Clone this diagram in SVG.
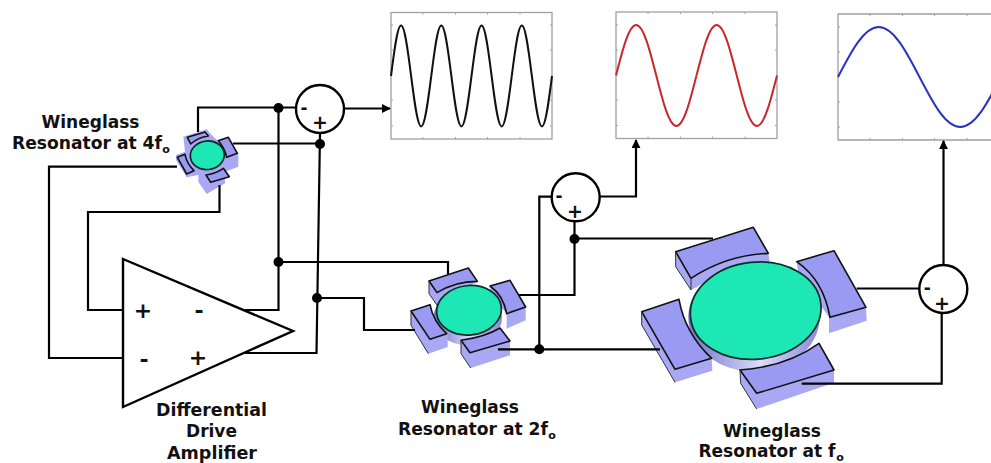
<svg xmlns="http://www.w3.org/2000/svg" xmlns:xlink="http://www.w3.org/1999/xlink" width="991" height="463" viewBox="0 0 991 463">
<style>
text{font-family:"DejaVu Sans","Liberation Sans",sans-serif;font-weight:700;fill:#111;text-anchor:middle}
.lbl{font-size:17px}
.sub{font-size:11px}
.sign{font-size:22px}
.wire{fill:none;stroke:#000;stroke-width:2.2;stroke-linejoin:miter}
.arr{marker-end:url(#ah)}
.dot{fill:#000}
.sum{fill:#fff;stroke:#000;stroke-width:2.4}
.frame{fill:#fff;stroke:#a0a0a0;stroke-width:1.3}
.tick{fill:none;stroke:#a0a0a0;stroke-width:1}
.face{fill:#9a9af2;stroke:#111;stroke-width:1.6;stroke-linejoin:round;vector-effect:non-scaling-stroke}
.side{fill:#a8a8f4;stroke:none}
.dark{fill:none;stroke:#333;stroke-width:1;vector-effect:non-scaling-stroke}
.disk{fill:#1de8b5;stroke:#0c2c28;stroke-width:1.7}
.under{fill:url(#ug)}
</style>
<defs>
<linearGradient id="ug" x1="0" x2="1" y1="0" y2="0"><stop offset="0" stop-color="#7272c8"/><stop offset="0.55" stop-color="#dcdcfc"/><stop offset="1" stop-color="#8888d8"/></linearGradient>
<marker id="ah" viewBox="0 0 10 10" refX="9" refY="5" markerUnits="userSpaceOnUse" markerWidth="9" markerHeight="9" orient="auto"><path d="M0,0 L10,5 L0,10 Z" fill="#000"/></marker>
<path id="sine" fill="none" stroke-width="2" vector-effect="non-scaling-stroke" d="M0,0 C.0815,-.5123 .1595,-1 .25,-1 C.3405,-1 .4185,-.5123 .5,0 C.5815,.5123 .6595,1 .75,1 C.8405,1 .9185,.5123 1,0"/>
</defs>

<g id="plot-4f">
<rect class="frame" x="391" y="12.5" width="161" height="126.5"/>
<path class="tick" d="M423,12.5v2M455.500,12.500v2M487.500,12.500v2M520,12.500v2M423,139v-2M455.500,139v-2M487.500,139v-2M520,139v-2M391,25h2M391,50h2M391,100h2M391,126h2M552,25h-2M552,50h-2M552,100h-2M552,126h-2"/>
<g stroke="#111">
<use href="#sine" transform="translate(391,76) scale(40.25,50.5)"/>
<use href="#sine" transform="translate(431.250,76) scale(40.25,50.5)"/>
<use href="#sine" transform="translate(471.500,76) scale(40.25,50.5)"/>
<use href="#sine" transform="translate(511.750,76) scale(40.25,50.5)"/>
</g>
</g>
<g id="plot-2f">
<rect class="frame" x="616" y="12" width="161" height="126.500"/>
<path class="tick" d="M648,12v2M680.500,12v2M712.500,12v2M745,12v2M648,138.500v-2M680.500,138.500v-2M712.500,138.500v-2M745,138.500v-2M616,25h2M616,50h2M616,100h2M616,125.500h2M777,25h-2M777,50h-2M777,100h-2M777,125.500h-2"/>
<g stroke="#c8282c">
<use href="#sine" transform="translate(616,75.500) scale(80.500,50.500)"/>
<use href="#sine" transform="translate(696.500,75.500) scale(80.500,50.500)"/>
</g>
</g>
<g id="plot-f">
<path class="frame" d="M991,14 H838 V140 H991"/>
<path class="tick" d="M870,14v2M902.500,14v2M934.500,14v2M967,14v2M870,140v-2M902.500,140v-2M934.500,140v-2M967,140v-2M838,27h2M838,52h2M838,102h2M838,127h2"/>
<g stroke="#2a34c0">
<use href="#sine" transform="translate(838,77) scale(163,50)"/>
</g>
</g>

<g id="amplifier">
<path d="M123,259 L293,331 L123,407 Z" fill="#fff" stroke="#000" stroke-width="2.4" stroke-linejoin="miter"/>
<text class="sign" x="143" y="318">+</text>
<text class="sign" x="199" y="318">-</text>
<text class="sign" x="144" y="367">-</text>
<text class="sign" x="198" y="365">+</text>
<text class="lbl" x="211.500" y="415.500" textLength="111" lengthAdjust="spacingAndGlyphs">Differential</text>
<text class="lbl" x="211.500" y="437" textLength="51" lengthAdjust="spacingAndGlyphs">Drive</text>
<text class="lbl" x="212" y="458.500" textLength="90" lengthAdjust="spacingAndGlyphs">Amplifier</text>
</g>

<g id="resonator-4f">
<g transform="translate(170,120) scale(.33333)">
<path class="side" d="M40,50 L110,28 L125,45 L140,60 L175,50 L205,100 L205,140 L165,155 L165,190 L110,222 L85,185 L85,165 L50,172 L18,120 L18,105 L45,95 Z"/>
<path class="face" d="M52,52 L105,36 L115,48 Q85,52 62,72 Z"/>
<path class="face" d="M145,62 L175,52 L202,100 L170,112 Q165,85 145,62 Z"/>
<path class="face" d="M22,112 L45,103 Q50,130 72,152 L50,162 Z"/>
<path class="face" d="M108,165 Q140,160 160,145 L178,170 L122,187 Z"/>
</g>
<ellipse class="disk" cx="207.300" cy="155.300" rx="17" ry="14.300" stroke-width="2" transform="rotate(-6 207.300 155.300)"/>
<text class="lbl" x="90.500" y="128" textLength="98" lengthAdjust="spacingAndGlyphs">Wineglass</text>
<text class="lbl" x="87" y="149.300" textLength="150" lengthAdjust="spacingAndGlyphs">Resonator at 4f</text>
<text class="sub" x="166" y="153">o</text>
</g>

<g id="resonator-2f">
<g transform="translate(405,262) scale(.33333)">
<ellipse class="under" cx="188" cy="168" rx="103" ry="82"/>
<path class="side" d="M72,57 L72,95 L100,135 L150,90 L217,60 Z"/>
<path class="face" d="M72,57 L190,18 L217,58 Q150,58 96,92 Z"/>
<path class="dark" d="M72,57 L72,95 L100,135"/>
<path class="side" d="M255,72 L258,95 L305,155 L305,200 L362,175 L362,135 Z"/>
<path class="face" d="M255,72 L315,55 L362,135 L305,155 Q295,100 255,72 Z"/>
<path class="side" d="M18,147 L18,190 L70,275 L128,255 L128,215 Z"/>
<path class="face" d="M18,147 L75,128 Q85,180 125,215 L75,232 Z"/>
<path class="dark" d="M18,147 L18,190 L70,275"/>
<path class="side" d="M168,235 L168,275 L197,318 L315,280 L315,237 Z"/>
<path class="face" d="M168,235 Q240,225 285,198 L315,237 L195,272 Z"/>
<path class="dark" d="M168,235 L168,275 L197,318"/>
</g>
<ellipse class="disk" cx="469" cy="310.300" rx="32.500" ry="24.700" transform="rotate(-6 469 310.300)"/>
<text class="lbl" x="470" y="413" textLength="98" lengthAdjust="spacingAndGlyphs">Wineglass</text>
<text class="lbl" x="473" y="435" textLength="150" lengthAdjust="spacingAndGlyphs">Resonator at 2f</text>
<text class="sub" x="552" y="439">o</text>
</g>

<g id="resonator-f">
<g transform="translate(630,210) scale(.33333)">
<ellipse class="under" cx="372" cy="322" rx="197" ry="163"/>
<path class="side" d="M137,125 L137,170 L183,240 L230,215 L420,160 L415,130 Z"/>
<path class="face" d="M137,125 L370,52 L415,130 Q290,135 183,205 Z"/>
<path class="dark" d="M137,125 L137,170 L183,240 M183,205 L183,240"/>
<path class="side" d="M500,155 L505,190 L597,322 L597,370 L710,332 L708,292 Z"/>
<path class="face" d="M500,155 L612,122 L708,292 L600,322 Q580,210 500,155 Z"/>
<path class="side" d="M35,305 L35,345 L135,517 L247,482 L245,445 Z"/>
<path class="face" d="M35,305 L147,268 Q165,370 245,445 L135,478 Z"/>
<path class="dark" d="M35,305 L35,345 L135,517"/>
<path class="side" d="M330,480 L332,520 L380,597 L612,518 L612,480 Z"/>
<path class="face" d="M330,480 Q470,470 567,400 L612,480 L380,550 Z"/>
<path class="dark" d="M330,480 L332,520 L380,597"/>
</g>
<ellipse class="disk" cx="755.700" cy="310.700" rx="65.500" ry="48.500" transform="rotate(-6 755.700 310.700)"/>
<text class="lbl" x="772" y="436.500" textLength="98" lengthAdjust="spacingAndGlyphs">Wineglass</text>
<text class="lbl" x="767" y="457" textLength="137" lengthAdjust="spacingAndGlyphs">Resonator at f</text>
<text class="sub" x="840" y="460.500">o</text>
</g>

<g id="connectors">
<path class="wire" d="M198,132 V107.500 H296"/>
<path class="wire" d="M278.500,107.500 V310 H245"/>
<path class="wire" d="M233,143.500 H320"/>
<path class="wire" d="M320,133 L316.500,353 H245"/>
<path class="wire" d="M177,166.700 H49 V358 H123"/>
<path class="wire" d="M219.500,185 V212 H88 V310 H123"/>
<path class="wire" d="M278.500,262 H448 V274"/>
<path class="wire" d="M317,298 H364 V330 H415"/>
<path class="wire" d="M518,295 H574.500 V221"/>
<path class="wire" d="M574.500,238.500 H713"/>
<path class="wire" d="M498,349.300 H660"/>
<path class="wire" d="M539.300,349.300 V196.700 H552"/>
<path class="wire" d="M856.700,288.500 H919.300"/>
<path class="wire" d="M801.700,383.700 H941.700 V313"/>
<path class="wire arr" d="M344,108.500 H390"/>
<path class="wire arr" d="M599.700,196.500 H636 V140"/>
<path class="wire arr" d="M943.500,265 V141"/>
<circle class="dot" cx="278.500" cy="108" r="5"/>
<circle class="dot" cx="320" cy="144" r="5"/>
<circle class="dot" cx="278.500" cy="262" r="5"/>
<circle class="dot" cx="317" cy="298" r="5"/>
<circle class="dot" cx="574.500" cy="239" r="5"/>
<circle class="dot" cx="539.300" cy="349.300" r="5"/>
</g>

<g id="sum-4f">
<circle class="sum" cx="320" cy="109" r="24"/>
<text class="sign" x="304" y="114" style="font-size:17px">-</text>
<text class="sign" x="320" y="129" style="font-size:19px">+</text>
</g>
<g id="sum-2f">
<circle class="sum" cx="575.700" cy="197.300" r="24"/>
<text class="sign" x="559" y="202" style="font-size:17px">-</text>
<text class="sign" x="575" y="217.500" style="font-size:19px">+</text>
</g>
<g id="sum-f">
<circle class="sum" cx="943.300" cy="289" r="24"/>
<text class="sign" x="927.300" y="294" style="font-size:17px">-</text>
<text class="sign" x="942" y="309.500" style="font-size:19px">+</text>
</g>
</svg>
